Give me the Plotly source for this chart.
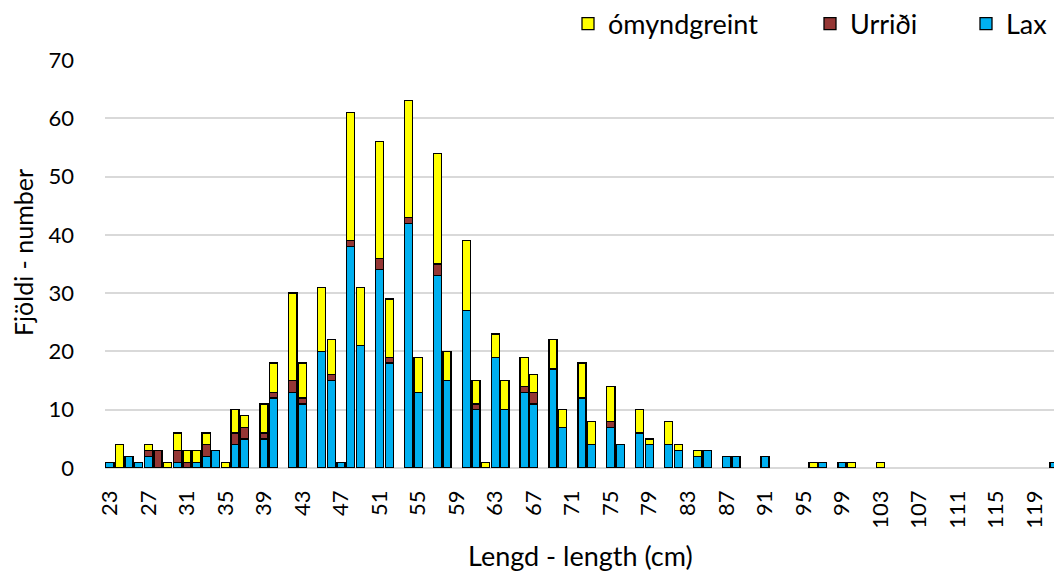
import plotly.graph_objects as go

# Length categories (cm)
lengths = list(range(23, 122))

# Counts per length class, 23 ... 121 cm
lax = [
    1, 0, 2, 1, 2, 0, 0, 1, 0, 1,        # 23-32
    2, 3, 0, 4, 5, 0, 5, 12, 0, 13,      # 33-42
    11, 0, 20, 15, 1, 38, 21, 0, 34, 18, # 43-52
    0, 42, 13, 0, 33, 15, 0, 27, 10, 0,  # 53-62
    19, 10, 0, 13, 11, 0, 17, 7, 0, 12,  # 63-72
    4, 0, 7, 4, 0, 6, 4, 0, 4, 3,        # 73-82
    0, 2, 3, 0, 2, 2, 0, 0, 2, 0,        # 83-92
    0, 0, 0, 0, 1, 0, 1, 0, 0, 0,        # 93-102
    0, 0, 0, 0, 0, 0, 0, 0, 0, 0,        # 103-112
    0, 0, 0, 0, 0, 0, 0, 0, 1,           # 113-121
]
urridi = [
    0, 0, 0, 0, 1, 3, 0, 2, 1, 0,        # 23-32
    2, 0, 0, 2, 2, 0, 1, 1, 0, 2,        # 33-42
    1, 0, 0, 1, 0, 1, 0, 0, 2, 1,        # 43-52
    0, 1, 0, 0, 2, 0, 0, 0, 1, 0,        # 53-62
    0, 0, 0, 1, 2, 0, 0, 0, 0, 0,        # 63-72
    0, 0, 1, 0, 0, 0, 0, 0, 0, 0,        # 73-82
    0, 0, 0, 0, 0, 0, 0, 0, 0, 0,        # 83-92
    0, 0, 0, 0, 0, 0, 0, 0, 0, 0,        # 93-102
    0, 0, 0, 0, 0, 0, 0, 0, 0, 0,        # 103-112
    0, 0, 0, 0, 0, 0, 0, 0, 0,           # 113-121
]
omyndgreint = [
    0, 4, 0, 0, 1, 0, 1, 3, 2, 2,        # 23-32
    2, 0, 1, 4, 2, 0, 5, 5, 0, 15,       # 33-42
    6, 0, 11, 6, 0, 22, 10, 0, 20, 10,   # 43-52
    0, 20, 6, 0, 19, 5, 0, 12, 4, 1,     # 53-62
    4, 5, 0, 5, 3, 0, 5, 3, 0, 6,        # 63-72
    4, 0, 6, 0, 0, 4, 1, 0, 4, 1,        # 73-82
    0, 1, 0, 0, 0, 0, 0, 0, 0, 0,        # 83-92
    0, 0, 0, 1, 0, 0, 0, 1, 0, 0,        # 93-102
    1, 0, 0, 0, 0, 0, 0, 0, 0, 0,        # 103-112
    0, 0, 0, 0, 0, 0, 0, 0, 0,           # 113-121
]
tick_labels = list(range(23, 120, 4))

colors = {"Lax": "#00B0F0", "Urriði": "#953735", "ómyndgreint": "#FFFF00"}
FONT = "Lato"


def nz(vals):
    return [v if v else None for v in vals]


fig = go.Figure()
for name, vals, leg in [("Lax", lax, "legend3"),
                        ("Urriði", urridi, "legend2"),
                        ("ómyndgreint", omyndgreint, "legend")]:
    fig.add_trace(go.Bar(
        x=lengths, y=nz(vals), name=name, legend=leg,
        marker=dict(color=colors[name], line=dict(color="#000000", width=1.3)),
    ))

W, H = 1054, 573
L, R, T, B = 105, 0, 60, 105
pw = W - L - R
ph = H - T - B


def px(x):
    return (x - L) / pw


def py(y):
    return (H - B - y) / ph


legend_common = dict(orientation="h", yanchor="middle", xanchor="left",
                     y=py(24), font=dict(family=FONT, size=27, color="#000000"),
                     bgcolor="rgba(0,0,0,0)", borderwidth=0)

fig.update_layout(
    width=W, height=H,
    margin=dict(l=L, r=R, t=T, b=B, autoexpand=False),
    barmode="stack", bargap=0.16,
    plot_bgcolor="white", paper_bgcolor="white",
    font=dict(family=FONT, color="#000000"),
    showlegend=True,
    legend=dict(x=px(568), **legend_common),
    legend2=dict(x=px(810), **legend_common),
    legend3=dict(x=px(966), **legend_common),
    xaxis=dict(
        range=[22.5, 121.0], tickmode="array", tickvals=tick_labels,
        ticktext=[str(t) for t in tick_labels], tickangle=-90,
        tickfont=dict(family=FONT, size=22, color="#000000"),
        showgrid=False, zeroline=False, showline=False, ticks="",
        ticklabelstandoff=17,
    ),
    yaxis=dict(
        range=[0, 70], dtick=10, tick0=0,
        tickfont=dict(family=FONT, size=22, color="#000000"),
        showgrid=True, gridcolor="#D9D9D9", gridwidth=1.5,
        zeroline=True, zerolinecolor="#D9D9D9", zerolinewidth=1.5,
        showline=False, ticks="", ticklabelstandoff=30,
    ),
    annotations=[
        dict(text="Lengd - length (cm)", xref="paper", yref="paper",
             x=px(580), y=py(555), xanchor="center", yanchor="middle",
             showarrow=False, font=dict(family=FONT, size=27, color="#000000")),
        dict(text="Fjöldi - number", xref="paper", yref="paper",
             x=px(23), y=py(253), xanchor="center", yanchor="middle",
             textangle=-90, showarrow=False,
             font=dict(family=FONT, size=25, color="#000000")),
    ],
)

fig.write_html("out.html")
